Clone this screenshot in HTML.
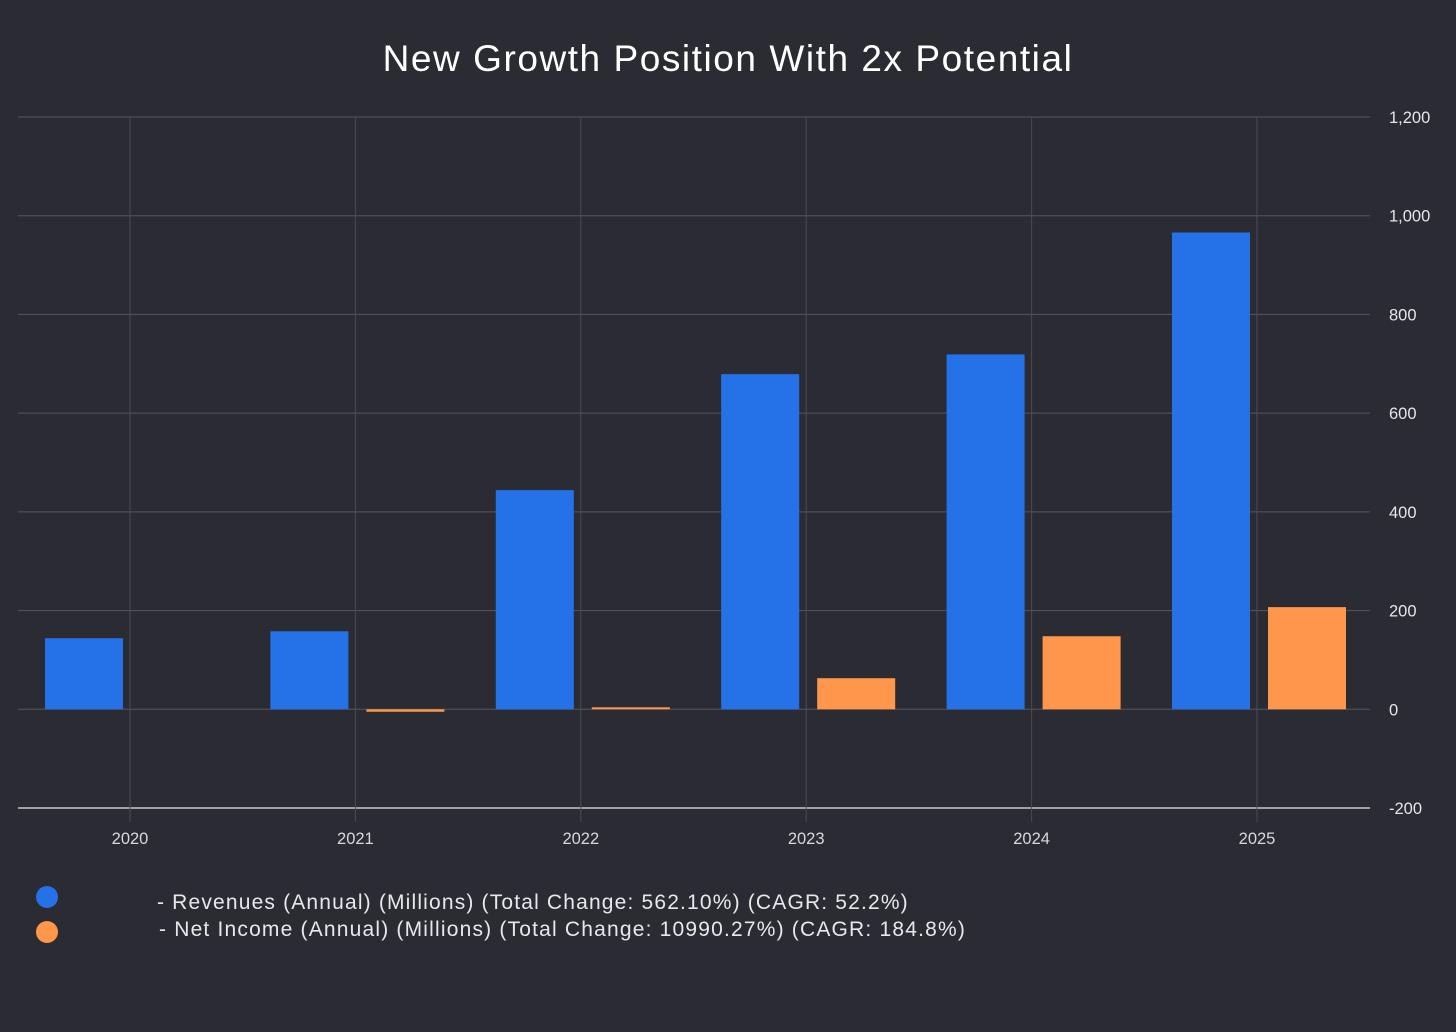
<!DOCTYPE html>
<html><head><meta charset="utf-8"><style>
html,body{margin:0;padding:0;background:#2b2c33;width:1456px;height:1032px;overflow:hidden;font-family:"Liberation Sans",sans-serif}
</style></head><body>
<svg id="chart" width="1456" height="1032" xmlns="http://www.w3.org/2000/svg">
<rect width="1456" height="1032" fill="#2b2c33"/>
<text x="728" y="71" text-anchor="middle" fill="#ffffff" font-size="37" letter-spacing="1.55">New Growth Position With 2x Potential</text>
<g id="grid"></g>
<g id="bars"></g>
<g id="axes"></g>
<g>
<circle cx="47" cy="897" r="11" fill="#2571e8"/>
<text x="157" y="909" fill="#e8e8ea" font-size="21" letter-spacing="1.17">- Revenues (Annual) (Millions) (Total Change: 562.10%) (CAGR: 52.2%)</text>
<circle cx="47" cy="932" r="11" fill="#fe974b"/>
<text x="159" y="936" fill="#e8e8ea" font-size="21" letter-spacing="1.19">- Net Income (Annual) (Millions) (Total Change: 10990.27%) (CAGR: 184.8%)</text>
</g>
</svg>
<script>
const categories = ["2020","2021","2022","2023","2024","2025"];
const revenues = [144, 158, 444, 679, 719, 966];
const netIncome = [0, -5, 3, 63, 148, 207];
const yTicks = [-200, 0, 200, 400, 600, 800, 1000, 1200];
const yTickLabels = ["-200","0","200","400","600","800","1,000","1,200"];

const NS = "http://www.w3.org/2000/svg";
const L = 18, R = 1370, yTop = 117, yBot = 808, vMin = -200, vMax = 1200;
const y = v => yBot - (v - vMin) / (vMax - vMin) * (yBot - yTop);
const step = 225.4, x0 = 130;
const x = i => x0 + i * step;
const bw = 78, offB = 46, offO = 50;
function mk(tag, attrs, parent){const e=document.createElementNS(NS,tag);for(const k in attrs)e.setAttribute(k,attrs[k]);parent.appendChild(e);return e;}
const grid = document.getElementById('grid'), bars = document.getElementById('bars'), axes = document.getElementById('axes');
yTicks.forEach((t,i)=>{
  const ln = mk('line',{x1:L,x2:R,y1:y(t),y2:y(t),stroke:t===-200?'#c8c8cc':'#55565e','stroke-width':t===-200?1.5:1},grid);
  
  
  const tx = mk('text',{x:1389,y:y(t)+6,fill:'#e6e6e8','font-size':16.5},axes);
  tx.textContent = yTickLabels[i];
  
  
});
categories.forEach((c,i)=>{
  const ln = mk('line',{x1:x(i),x2:x(i),y1:yTop,y2:yBot+14,stroke:'#4a4b53','stroke-width':1},grid);
  
  
  const tx = mk('text',{x:x(i),y:844,fill:'#d8d8dc','font-size':16.5,'text-anchor':'middle'},axes);
  tx.textContent = c;
  
  
  const rv = revenues[i];
  const b1 = mk('rect',{x:x(i)-offB-bw/2,y:Math.min(y(rv),y(0)),width:bw,height:Math.abs(y(rv)-y(0)),fill:'#2571e8'},bars);
  
  
  const ni = netIncome[i];
  if (ni !== 0) {
    const h = Math.max(Math.abs(y(ni)-y(0)),2);
    const b2 = mk('rect',{x:x(i)+offO-bw/2,y:ni>=0?y(0)-h:y(0),width:bw,height:h,fill:'#fe974b'},bars);
    
    
  }
});
</script>
</body></html>
